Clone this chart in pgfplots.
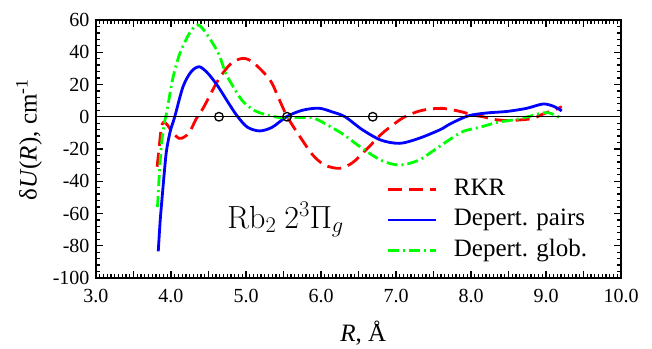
\RequirePackage{fix-cm}
\documentclass[border=0pt]{standalone}
\usepackage[no-math]{fontspec}
\setmainfont{Liberation Serif}
\usepackage{pgfplots}
\pgfplotsset{compat=1.18}
\begin{document}
\begin{tikzpicture}
\begin{axis}[
  name=ax,
  scale only axis,
  width=525bp, height=258bp,
  xmin=3, xmax=10, ymin=-100, ymax=60,
  xtick={3,3.5,...,10},
  xticklabels={3.0,,4.0,,5.0,,6.0,,7.0,,8.0,,9.0,,10.0},
  minor x tick num=9,
  ytick={-100,-80,...,60},
  minor y tick num=4,
  major tick length=7bp,
  minor tick length=4bp,
  every tick/.style={black, line width=1.3bp},
  axis line style={line width=1.8bp},
  tick align=inside,
  /pgf/number format/assume math mode=true,
  ticklabel style={font=\fontsize{20bp}{24bp}\selectfont},
  xticklabel style={yshift=-8bp},
  yticklabel style={xshift=-3bp},
  every axis y label/.style={at={(axis description cs:-0.1276,0.535)},rotate=90,anchor=center},
  every axis x label/.style={at={(axis description cs:0.509,-0.213)},anchor=center},
  ylabel={\fontsize{25bp}{30bp}\selectfont δ\textit{U}(\textit{R}), cm\textsuperscript{-1}},
  xlabel={\fontsize{25bp}{30bp}\selectfont \textit{R}, Å},
  legend style={draw=none, fill=none, at={(0.554,0.388)}, anchor=north west,
    inner sep=0pt, row sep=7.5bp, column sep=16bp,
    font=\fontsize{25bp}{30bp}\selectfont,
    nodes={inner sep=0pt, text height=17bp, text depth=6bp}},
  legend cell align=left,
  legend image code/.code={\draw[#1] (0bp,0bp) -- (48bp,0bp);},
  clip=true,
]
\addplot[red, line width=2.8bp, dash pattern=on 14bp off 7bp, smooth] coordinates {
(3.815,-31) (3.84,-20) (3.87,-7) (3.9,-3.5) (3.95,-5) (4.03,-10.3) (4.11,-13.4) (4.18,-12.5) (4.25,-9.3) (4.34,-1) (4.43,5.4) (4.63,22.8) (4.8,33) (4.96,36.2) (5.1,33.5) (5.32,22.8) (5.44,11) (5.55,0) (5.72,-12.4) (5.89,-23.7) (6.05,-30) (6.25,-32) (6.42,-28.5) (6.6,-20.6) (6.8,-11) (6.96,-5) (7.1,-0.5) (7.28,3.1) (7.45,4.8) (7.63,5.2) (7.72,4.6) (7.88,3) (8.03,1) (8.16,0) (8.3,-1.6) (8.48,-2.4) (8.65,-2) (8.83,-1) (8.96,1.7) (9.1,4) (9.21,6.2)
};
\addlegendentry{RKR}
\addplot[blue, line width=2.8bp, smooth] coordinates {
(3.83,-83.5) (3.855,-65) (3.88,-51) (3.91,-35) (3.94,-21) (3.99,-9) (4.05,0) (4.16,18.6) (4.27,28) (4.38,31) (4.5,26.5) (4.63,18.6) (4.76,9) (4.89,0) (5.02,-6.5) (5.18,-8.8) (5.35,-6.5) (5.54,0) (5.75,4) (5.97,5.3) (6.15,3) (6.32,0) (6.55,-8) (6.8,-14.5) (7.05,-16.5) (7.3,-13.5) (7.59,-8) (7.72,-4.5) (7.96,0.5) (8.2,2.3) (8.48,3.3) (8.74,5.2) (8.96,7.9) (9.1,6.5) (9.21,3.6)
};
\addlegendentry{Depert. pairs}
\addplot[green, line width=2.8bp, dash pattern=on 11bp off 4bp on 2bp off 4bp, smooth] coordinates {
(3.82,-56) (3.85,-31) (3.88,-14) (3.92,-2) (3.94,2) (3.97,10) (4.03,25) (4.12,39.5) (4.25,52) (4.36,57) (4.48,51) (4.63,39.5) (4.73,27) (4.83,18.6) (4.95,10) (5.1,4.2) (5.25,1.5) (5.45,-0.5) (5.7,-0.5) (5.9,-0.8) (6.12,-6) (6.3,-11) (6.52,-18.6) (6.8,-27) (7.05,-30) (7.3,-27) (7.5,-21) (7.72,-14) (7.9,-9) (8.12,-6.5) (8.35,-3.5) (8.61,-1.6) (8.8,0.5) (8.92,2.1) (9.03,2.5) (9.12,1) (9.2,-1)
};
\addlegendentry{Depert. glob.}
\addplot[black, line width=1.3bp, forget plot] coordinates {(3,0) (10,0)};
\addplot[black, only marks, mark=o, mark size=4.3bp, mark options={line width=1.3bp}, forget plot] coordinates {(4.64,0) (5.547,0) (6.69,0)};
\node[anchor=base west, inner sep=0pt, font=\fontsize{32bp}{38bp}\selectfont] at (axis cs:4.75,-69) {$\mathrm{Rb}_2\ 2^3\Pi_g$};
\end{axis}
\path (ax.south west) ++(-96bp,-67bp) rectangle ++(652bp,345bp);
\end{tikzpicture}
\end{document}
